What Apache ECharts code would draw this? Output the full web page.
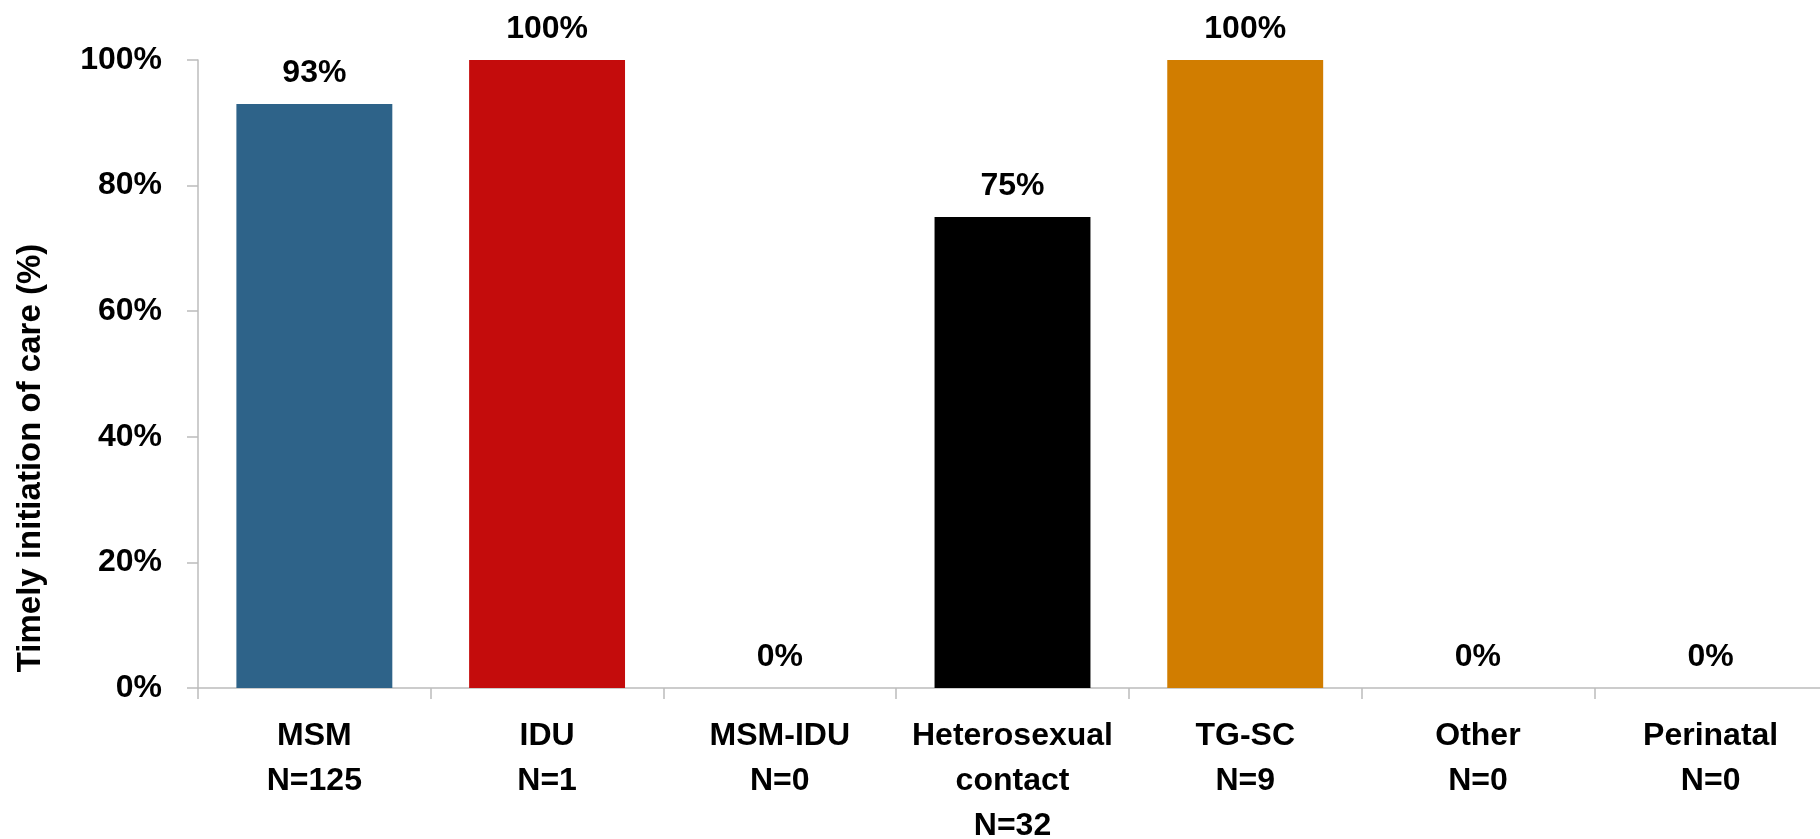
<!DOCTYPE html>
<html>
<head>
<meta charset="utf-8">
<title>Timely initiation of care by transmission category</title>
<script src="https://cdn.jsdelivr.net/npm/echarts@6/dist/echarts.min.js"></script>
<style>
  html, body { margin: 0; padding: 0; background: #ffffff; }
  #chart { width: 1820px; height: 839px; }
</style>
</head>
<body>
<div id="chart"></div>
<script>
// Transmission categories and their case counts
const groups = ['MSM', 'IDU', 'MSM-IDU', 'Heterosexual\ncontact', 'TG-SC', 'Other', 'Perinatal'];
const counts = [125, 1, 0, 32, 9, 0, 0];
// Percent with timely initiation of care
const timelyPct = [93, 100, 0, 75, 100, 0, 0];
// Bar fill per category (empty groups have no visible bar)
const barColors = ['#2E6389', '#C40C0C', '#2E6389', '#000000', '#D17D00', '#2E6389', '#2E6389'];
const yTicks = [0, 20, 40, 60, 80, 100];

const categoryLabels = groups.map((g, i) => g + '\nN=' + counts[i]);

const FONT = '"Liberation Sans", Arial, sans-serif';
const AXIS_GRAY = '#BCBCBC';

const chart = echarts.init(document.getElementById('chart'), null, { renderer: 'canvas' });

chart.setOption({
  backgroundColor: '#ffffff',
  animation: false,
  grid: {
    left: 198, top: 60, width: 1629, bottom: 151,
    containLabel: false,
    outerBoundsMode: 'none'
  },
  xAxis: {
    type: 'category',
    data: categoryLabels,
    boundaryGap: true,
    axisLine: { show: true, lineStyle: { color: AXIS_GRAY, width: 1.5 } },
    axisTick: { show: true, length: 11, interval: 0, lineStyle: { color: AXIS_GRAY, width: 1.5 } },
    axisLabel: {
      interval: 0,
      margin: 26,
      color: '#000000',
      fontFamily: FONT,
      fontWeight: 'bold',
      fontSize: 32,
      lineHeight: 45,
      align: 'center',
      hideOverlap: false
    },
    splitLine: { show: false }
  },
  yAxis: {
    type: 'value',
    min: yTicks[0],
    max: yTicks[yTicks.length - 1],
    interval: 20,
    axisLine: { show: true, lineStyle: { color: AXIS_GRAY, width: 1.5 } },
    axisTick: { show: true, length: 11, lineStyle: { color: AXIS_GRAY, width: 1.5 } },
    axisLabel: {
      margin: 36,
      color: '#000000',
      fontFamily: FONT,
      fontWeight: 'bold',
      fontSize: 32,
      formatter: '{value}%'
    },
    splitLine: { show: false }
  },
  graphic: [{
    type: 'text',
    x: 31,
    y: 458,
    rotation: Math.PI / 2,
    style: {
      text: 'Timely initiation of care (%)',
      fill: '#000000',
      font: 'bold 33px ' + FONT,
      textAlign: 'center',
      textVerticalAlign: 'middle'
    }
  }],
  series: [{
    type: 'bar',
    data: timelyPct.map((v, i) => ({ value: v, itemStyle: { color: barColors[i] } })),
    barCategoryGap: '33%',
    label: {
      show: true,
      position: 'top',
      distance: 15,
      color: '#000000',
      fontFamily: FONT,
      fontWeight: 'bold',
      fontSize: 32,
      lineHeight: 32,
      formatter: p => p.value + '%'
    }
  }]
});
</script>
</body>
</html>
